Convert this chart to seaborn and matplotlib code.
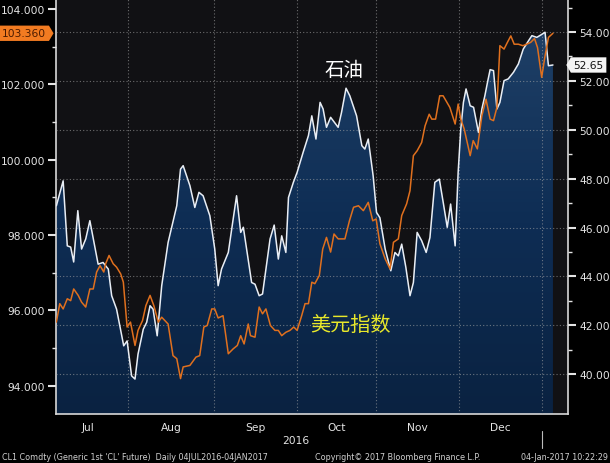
import numpy as np
import matplotlib
matplotlib.use("Agg")
import matplotlib.pyplot as plt
import matplotlib.transforms as mtransforms
from matplotlib.path import Path
from matplotlib.colors import LinearSegmentedColormap
import seaborn as sns

# x = trading-day index from 04JUL2016
oil_x = [1.0, 2.8, 3.9, 4.8, 5.6, 6.7, 7.7, 8.8, 9.9, 12.1, 13.4, 14.8, 15.7, 17.0, 18.9, 19.8,
         21.0, 21.9, 22.7, 24.1, 25.0, 25.9, 26.7, 27.8, 29.0, 30.7, 33.0, 34.0, 34.7, 36.5, 37.8,
         38.9, 40.0, 41.8, 43.1, 44.0, 44.9, 46.7, 48.9, 50.0, 50.7, 52.9, 53.8, 54.9, 55.8, 57.8,
         58.9, 60.0, 60.9, 62.0, 62.7, 64.0, 65.0, 66.6, 68.0, 68.9, 70.0, 71.1, 71.9, 72.8, 73.9,
         75.9, 76.8, 78.0, 79.0, 80.8, 82.2, 83.0, 83.9, 85.2, 86.1, 87.0, 88.4, 89.9, 91.0, 91.9,
         92.8, 93.9, 95.0, 95.9, 96.9, 98.1, 99.3, 100.3, 101.6, 102.8, 103.9, 104.9, 105.8, 107.0,
         107.8, 108.5, 109.2, 109.9, 111.0, 111.9, 113.2, 114.1, 114.9, 115.6, 116.3, 117.2, 118.1,
         118.9, 120.0, 121.1, 122.5, 123.8, 125.1, 126.5, 127.4, 128.7, 129.8, 130.9, 131.8, 133.0]
oil = [46.89, 47.91, 45.25, 45.20, 44.59, 46.69, 45.12, 45.53, 46.28, 44.50, 44.57, 44.30, 43.21,
       42.66, 41.16, 41.36, 39.93, 39.80, 40.82, 41.84, 42.12, 42.80, 42.66, 41.57, 43.62, 45.39,
       46.89, 48.39, 48.53, 47.71, 46.82, 47.44, 47.30, 46.48, 45.12, 43.62, 44.30, 44.98, 47.30,
       45.80, 46.01, 43.75, 43.68, 43.21, 43.28, 45.53, 46.10, 44.71, 45.66, 44.98, 47.23, 47.85,
       48.26, 49.08, 49.76, 50.57, 49.62, 51.12, 50.85, 50.10, 50.51, 50.10, 50.71, 51.70, 51.39,
       50.57, 49.35, 49.21, 49.62, 48.12, 46.62, 46.40, 45.12, 44.23, 44.98, 44.84, 45.32, 44.37,
       43.21, 43.75, 45.80, 45.46, 44.98, 45.59, 47.85, 47.98, 46.96, 46.01, 46.96, 45.25, 48.26,
       50.03, 51.12, 51.67, 50.98, 50.92, 49.89, 50.85, 51.39, 51.94, 52.46, 52.42, 50.85, 51.12,
       52.01, 52.08, 52.35, 52.69, 53.30, 53.64, 53.85, 53.78, 53.88, 53.99, 52.62, 52.65]

usd_x = [1.0, 1.9, 2.8, 3.9, 4.8, 5.6, 6.8, 7.7, 8.8, 9.9, 10.8, 11.7, 12.6, 13.6, 14.1, 15.0,
         16.1, 17.0, 18.1, 18.8, 19.8, 20.7, 21.9, 22.7, 23.9, 24.8, 25.9, 26.9, 28.1, 29.0, 30.7,
         32.0, 33.0, 34.0, 34.7, 36.5, 38.1, 39.1, 40.2, 41.1, 42.3, 43.1, 44.0, 45.3, 46.7, 48.0,
         49.1, 50.0, 50.9, 52.0, 52.6, 53.8, 54.9, 55.8, 56.7, 57.9, 59.1, 60.0, 60.9, 62.0, 63.1,
         64.1, 65.0, 66.2, 67.1, 68.0, 68.9, 69.7, 70.9, 71.8, 72.8, 73.9, 74.8, 75.9, 77.7, 78.9,
         80.0, 81.3, 82.6, 83.9, 85.1, 86.0, 87.0, 88.4, 89.7, 90.6, 91.9, 92.8, 94.1, 95.0, 95.9,
         96.9, 98.1, 99.0, 100.1, 100.8, 101.8, 102.9, 103.8, 104.8, 105.6, 107.0, 107.8, 108.5,
         109.4, 110.2, 111.0, 111.8, 112.9, 114.1, 115.2, 116.3, 117.2, 118.1, 118.9, 120.0, 120.9,
         121.8, 122.7, 123.8, 125.0, 126.0, 127.1, 128.1, 128.9, 130.0, 130.9, 131.8, 133.0]
usd = [95.69, 96.18, 96.04, 96.31, 96.26, 96.57, 96.40, 96.22, 96.09, 96.57, 96.57, 97.02, 97.19,
       97.02, 97.24, 97.46, 97.24, 97.15, 96.97, 96.75, 95.56, 95.69, 95.07, 95.47, 95.73, 96.13,
       96.40, 96.13, 95.69, 95.82, 95.64, 94.80, 94.72, 94.19, 94.50, 94.54, 94.76, 94.80, 95.56,
       95.60, 96.04, 96.04, 95.80, 95.86, 94.85, 94.98, 95.07, 95.33, 95.11, 95.64, 95.33, 95.29,
       96.09, 95.91, 96.04, 95.60, 95.47, 95.47, 95.33, 95.42, 95.47, 95.56, 95.47, 95.86, 96.18,
       96.18, 96.75, 96.71, 96.93, 97.63, 97.94, 97.55, 98.03, 97.90, 97.90, 98.38, 98.74, 98.78,
       98.65, 98.87, 98.38, 98.43, 97.77, 97.37, 97.10, 97.81, 97.90, 98.52, 98.83, 99.18, 100.11,
       100.24, 100.46, 100.90, 101.21, 101.08, 101.08, 101.70, 101.70, 101.53, 101.39, 100.95,
       101.48, 101.08, 100.82, 100.46, 100.11, 100.51, 100.29, 101.17, 101.61, 101.08, 101.04,
       101.39, 103.03, 102.94, 103.12, 103.29, 103.07, 103.07, 103.03, 103.07, 103.12, 103.22,
       102.98, 102.19, 102.76, 103.25, 103.36]

months = ["Jul", "Aug", "Sep", "Oct", "Nov", "Dec"]
month_starts = [-1, 20, 43, 65, 86, 108, 130]   # first weekday Jul..Jan
year_label = "2016"

oil_lim = (38.37, 55.35)
usd_lim = (93.25, 104.27)
x_lim = (0.9, 137.0)

sns.set_theme(style="dark")
plt.rcParams["font.family"] = ["DejaVu Sans"]
cjk = ["Noto Sans CJK SC", "DejaVu Sans"]
fg = "#e4e4e4"


def tag(point):
    # rectangle with a pointed end, like the Bloomberg last-value tags
    def style(x0, y0, width, height, mutation_size):
        pad = 0.25 * mutation_size
        x0, y0 = x0 - pad, y0 - pad
        x1, y1 = x0 + width + 2 * pad, y0 + height + 2 * pad
        h = (y1 - y0) / 2
        if point == "right":
            v = [(x0, y0), (x1, y0), (x1 + h * 0.6, y0 + h), (x1, y1), (x0, y1), (x0, y0)]
        else:
            v = [(x0, y0), (x1, y0), (x1, y1), (x0, y1), (x0 - h * 0.6, y0 + h), (x0, y0)]
        return Path(v, closed=True)
    return style


fig = plt.figure(figsize=(6.1, 4.64), dpi=100, facecolor="black")
ax = fig.add_axes([56 / 610, 1 - 415 / 464, 512 / 610, 415 / 464])
ax2 = ax.twinx()   # dollar index, drawn above the oil area
ax.set_facecolor("#111114")

# oil: gradient area under the white line (right axis)
poly = ax.fill_between(oil_x, oil, oil_lim[0], facecolor="none", edgecolor="none")
cmap = LinearSegmentedColormap.from_list("fill", ["#0a2241", "#0e2d54", "#1e3f66"])
grad = np.linspace(0, 1, 256).reshape(-1, 1)
im = ax.imshow(grad, extent=[x_lim[0], x_lim[1], oil_lim[0], max(oil)], origin="lower",
               aspect="auto", cmap=cmap, zorder=1)
im.set_clip_path(poly.get_paths()[0], transform=ax.transData)
sns.lineplot(x=oil_x, y=oil, ax=ax, color="#e9eef5", linewidth=1.1, zorder=4)

ax.set_xlim(*x_lim)
ax.set_ylim(*oil_lim)
ax.yaxis.tick_right()
ax.set_yticks(np.arange(40, 55, 2))
ax.set_yticks(np.arange(41, 56, 2), minor=True)
ax.set_yticklabels([f"{v:.2f}" for v in np.arange(40, 55, 2)])

ax.set_xticks(month_starts[1:])
ax.set_xticklabels([])
mids = [(a + b) / 2 for a, b in zip(month_starts[:-1], month_starts[1:])]
ax.set_xticks(mids, minor=True)
ax.set_xticklabels(months, minor=True)

ax.set_axisbelow(False)
ax.grid(True, which="major", color="#a8a8a8", alpha=0.6, linestyle=(0, (1, 2)), linewidth=0.8)
ax.grid(False, which="minor")
ax.tick_params(axis="y", which="major", direction="out", length=6, width=1.5,
               colors=fg, labelsize=7.7, pad=2)
ax.tick_params(axis="y", which="minor", direction="out", length=3, width=1, colors=fg)
ax.tick_params(axis="x", which="major", direction="out", length=4, width=1, colors=fg)
ax.tick_params(axis="x", which="minor", length=0, colors=fg, labelsize=7.7, pad=6)
for side in ["left", "right", "bottom"]:
    ax.spines[side].set_color("#d8d8d8")
    ax.spines[side].set_linewidth(1.2)
ax.spines["top"].set_visible(False)
ax.set_xlabel("")
ax.set_ylabel("")

# dollar index (left axis)
sns.lineplot(x=usd_x, y=usd, ax=ax2, color="#e0701e", linewidth=1.1)
ax2.set_ylim(*usd_lim)
ax2.yaxis.tick_left()
ax2.set_yticks(np.arange(94, 105, 2))
ax2.set_yticks(np.arange(95, 104, 2), minor=True)
ax2.set_yticklabels([f"{v:.3f}" for v in np.arange(94, 105, 2)])
ax2.tick_params(axis="y", which="major", direction="out", length=6, width=1.5,
                colors=fg, labelsize=7.7, pad=2)
ax2.tick_params(axis="y", which="minor", direction="out", length=3, width=1, colors=fg)
ax2.grid(False)
for s in ax2.spines.values():
    s.set_visible(False)
ax2.set_ylabel("")

# last value tags
ax2.annotate(f"{usd[-1]:.3f}", xy=(0, usd[-1]), xycoords=ax2.get_yaxis_transform(),
             xytext=(-7, 0), textcoords="offset points", ha="right", va="center",
             fontsize=7.7, color="#4a1a00",
             bbox=dict(boxstyle=tag("right"), facecolor="#f27b21", edgecolor="none"))
ax.annotate(f"{oil[-1]:.2f}", xy=(1, oil[-1]), xycoords=ax.get_yaxis_transform(),
            xytext=(4, 0), textcoords="offset points", ha="left", va="center",
            fontsize=7.7, color="#111111",
            bbox=dict(boxstyle=tag("left"), facecolor="#f4f4f4", edgecolor="none"))

# series names
ax.text(0.5625, 0.829, "石油", transform=ax.transAxes, ha="center", va="center",
        fontsize=14, color="white", family=cjk, zorder=6)
ax.text(0.576, 0.2145, "美元指数", transform=ax.transAxes, ha="center", va="center",
        fontsize=14.5, color="#e8e82a", family=cjk, zorder=6)

# year label and divider
blend = mtransforms.blended_transform_factory(ax.transData, ax.transAxes)
ax.text((month_starts[0] + month_starts[-1]) / 2, -0.063, year_label, transform=blend,
        ha="center", va="center", fontsize=7.7, color=fg)
ax.plot([month_starts[-1]] * 2, [-0.041, -0.082], transform=blend, clip_on=False,
        color="#bbbbbb", linewidth=0.8)

# footer
fig.text(0.004, 0.015, "CL1 Comdty (Generic 1st 'CL' Future)  Daily 04JUL2016-04JAN2017",
         fontsize=5.8, color="#d0d0d0", va="center")
fig.text(0.516, 0.015, "Copyright\u00a9 2017 Bloomberg Finance L.P.",
         fontsize=5.8, color="#d0d0d0", va="center")
fig.text(0.997, 0.015, "04-Jan-2017 10:22:29", fontsize=5.8, color="#d0d0d0",
         va="center", ha="right")

fig.savefig("out.png", dpi=100, facecolor="black")
